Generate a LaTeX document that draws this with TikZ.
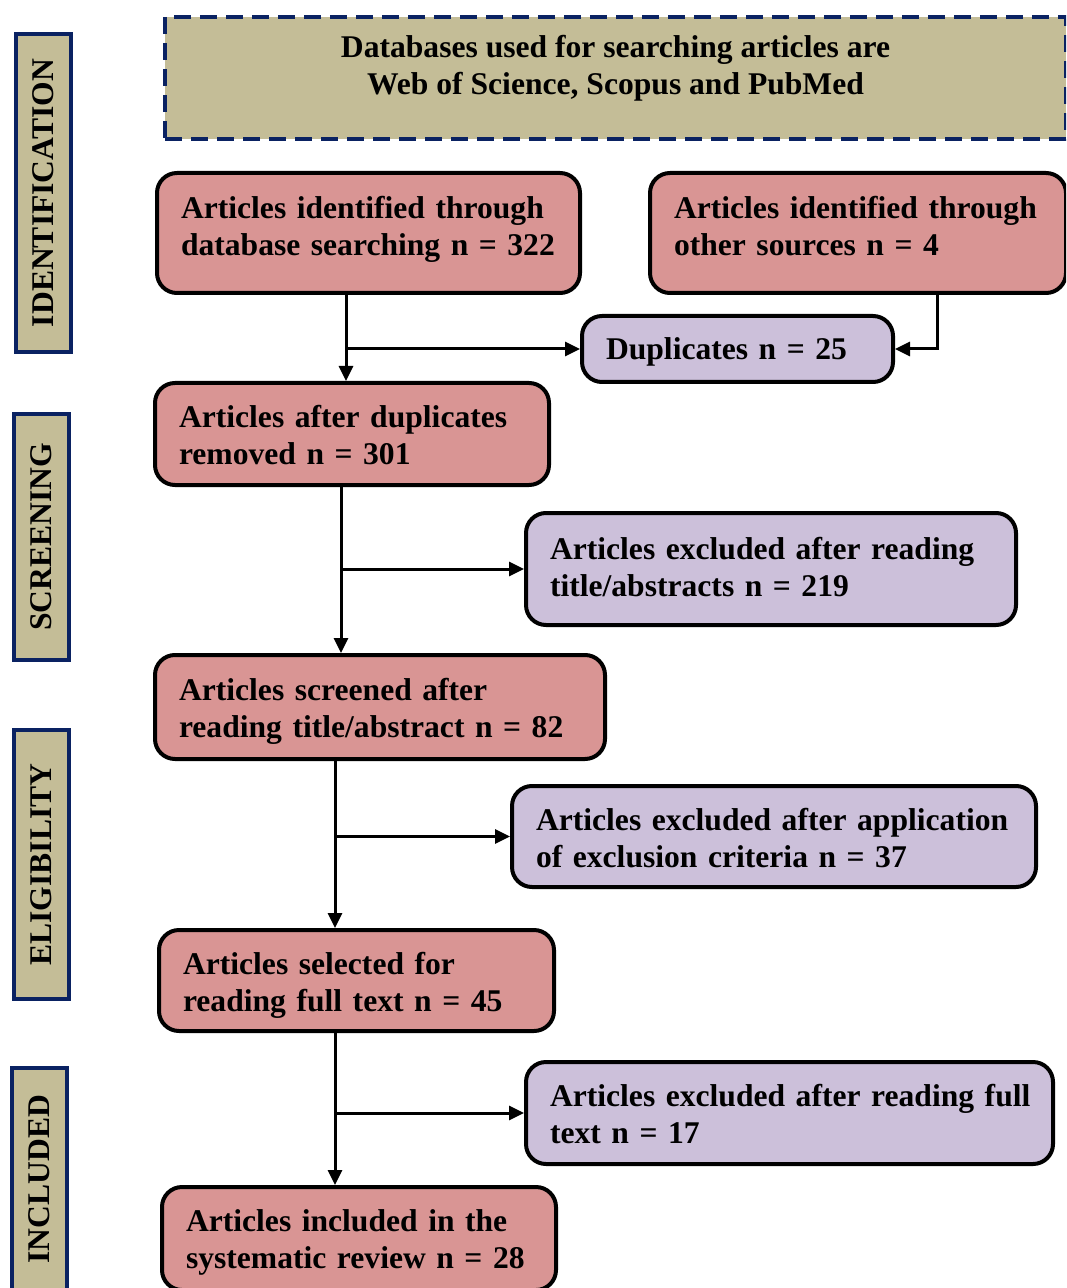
\documentclass[tikz,border=0pt]{standalone}
\usepackage{fontspec}
\setmainfont{Liberation Serif}
\usepackage{xcolor}
\usepackage{tikz}
\usetikzlibrary{arrows.meta}
\definecolor{redfill}{HTML}{D99594}
\definecolor{purplefill}{HTML}{CCC0DA}
\definecolor{tanfill}{HTML}{C4BD97}
\definecolor{navy}{HTML}{0A2262}

\begin{document}
\begin{tikzpicture}[x=0.5pt,y=-0.5pt,
    every node/.style={font=\bfseries\fontsize{15.8}{18.5}\selectfont},
    flowbox/.style={draw=black,line width=2pt,rounded corners=10pt,align=left,inner xsep=12pt,inner ysep=0pt,text depth=17.5pt},
    redbox/.style={flowbox,fill=redfill},
    purplebox/.style={flowbox,fill=purplefill},
    phase/.style={draw=navy,line width=2pt,fill=tanfill,rotate=90,minimum height=27.5pt,inner sep=0pt},
    arr/.style={-{Triangle[length=7.5pt,width=7pt]},line width=1.5pt}]
    \useasboundingbox (0,0) rectangle (1066,1288);
    \clip (0,0) rectangle (1066,1288);
    % phase labels
    \node[phase,minimum width=159pt] (ident) at (43.5,193) {IDENTIFICATION};
    \node[phase,minimum width=123pt] (scr) at (41.5,537) {SCREENING};
    \node[phase,minimum width=134.5pt] (elig) at (41.5,864.5) {ELIGIBILITY};
    \node[phase,minimum width=111pt] (incl) at (39.5,1179) {INCLUDED};
    % databases
    \node[draw=navy,dashed,dash pattern=on 8.5pt off 4.5pt,line width=1.6pt,fill=tanfill,
          minimum width=450.5pt,minimum height=61pt,align=center,text depth=13.5pt] (db) at (615.5,78)
          {Databases used for searching articles are\\Web of Science, Scopus and PubMed};
    % boxes
    \node[redbox,text width=187.5pt,minimum height=60pt,text depth=26pt] (search) at (368.5,233)
          {Articles identified through\\database searching n = 322};
    \node[redbox,text width=184pt,minimum height=60pt,text depth=26pt] (other) at (858,233)
          {Articles identified through\\other sources n = 4};
    \node[purplebox,text width=131.5pt,minimum height=33pt,text depth=0pt] (dup) at (737.5,349)
          {Duplicates n = 25};
    \node[redbox,text width=173pt,minimum height=51pt] (nodup) at (352,434)
          {Articles after duplicates\\removed n = 301};
    \node[purplebox,text width=221pt,minimum height=56pt,text depth=21pt] (excl1) at (771,569)
          {Articles excluded after reading\\title/abstracts n = 219};
    \node[redbox,text width=201pt,minimum height=52pt] (screened) at (380,707)
          {Articles screened after\\reading title/abstract n = 82};
    \node[purplebox,text width=238pt,minimum height=50.5pt] (excl2) at (774,836.5)
          {\mbox{Articles excluded after application}\\of exclusion criteria n = 37};
    \node[redbox,text width=173.5pt,minimum height=50.5pt] (fulltext) at (356.5,980.5)
          {Articles selected for\\reading full text n = 45};
    \node[purplebox,text width=239.5pt,minimum height=51pt] (excl3) at (789.5,1113)
          {\mbox{Articles excluded after reading full}\\text n = 17};
    \node[redbox,text width=173pt,minimum height=51.5pt] (incl) at (359,1238.5)
          {Articles included in the\\systematic review n = 28};
    % connectors
    \coordinate (c1) at (346,0);
    \coordinate (c2) at (341,0);
    \coordinate (c3) at (335,0);
    \coordinate (c4) at (937,0);
    \draw[arr] (search.south -| c1) -- (nodup.north -| c1);
    \draw[arr] (dup.west -| c1) -- (dup.west);
    \draw[arr] (other.south -| c4) |- (dup.east);
    \draw[arr] (nodup.south -| c2) -- (screened.north -| c2);
    \draw[arr] (excl1.west -| c2) -- (excl1.west);
    \draw[arr] (screened.south -| c3) -- (fulltext.north -| c3);
    \draw[arr] (excl2.west -| c3) -- (excl2.west);
    \draw[arr] (fulltext.south -| c3) -- (incl.north -| c3);
    \draw[arr] (excl3.west -| c3) -- (excl3.west);
\end{tikzpicture}
\end{document}
